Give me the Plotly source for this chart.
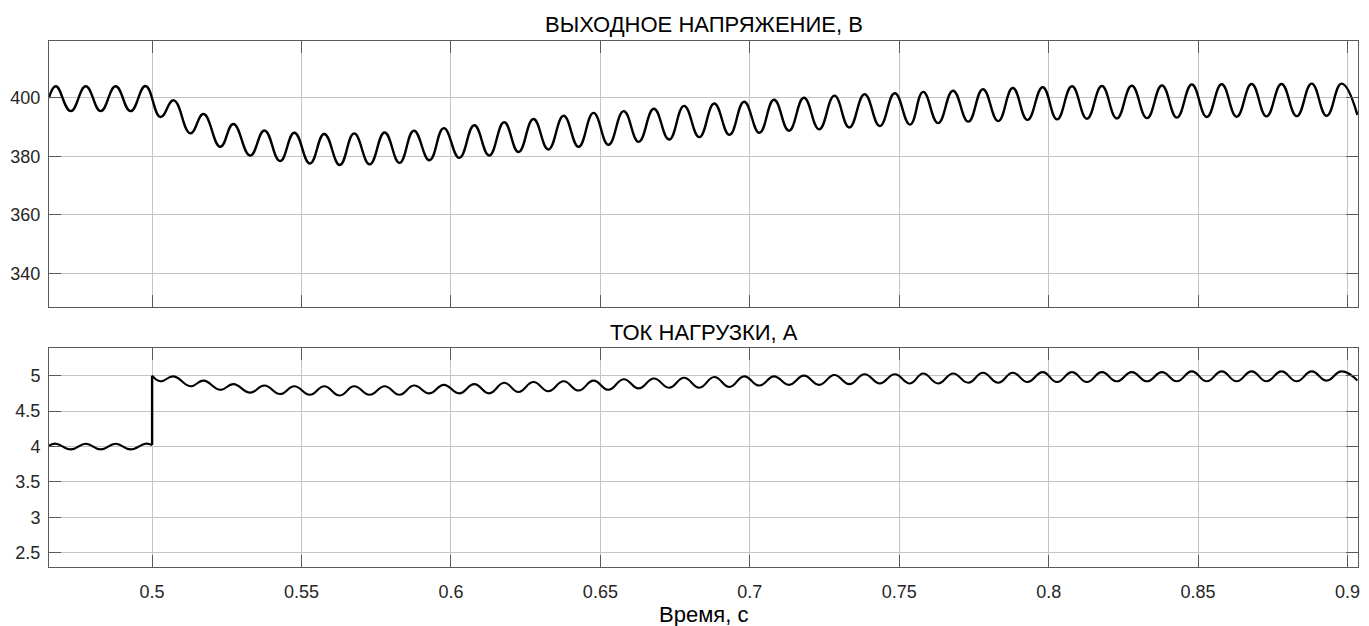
import plotly.graph_objects as go
from plotly.subplots import make_subplots

# Extremum samples of the ripple (time, s), shared by both signals
time_s = [
    0.4655,
    0.4678, 0.4728, 0.4778, 0.4828, 0.4878, 0.4928, 0.4978, 0.5028,
    0.5072, 0.5128, 0.5172, 0.5228, 0.5272, 0.5328, 0.5376, 0.5428,
    0.5476, 0.5528, 0.5576, 0.5628, 0.5676, 0.5728, 0.5778, 0.5828,
    0.5876, 0.5928, 0.5976, 0.6028, 0.6078, 0.6128, 0.6178, 0.6226,
    0.6276, 0.6326, 0.6377, 0.6427, 0.6477, 0.6527, 0.6578, 0.6628,
    0.6679, 0.6730, 0.6780, 0.6831, 0.6881, 0.6932, 0.6981, 0.7032,
    0.7081, 0.7131, 0.7181, 0.7232, 0.7283, 0.7333, 0.7384, 0.7435,
    0.7485, 0.7536, 0.7580, 0.7630, 0.7680, 0.7731, 0.7780, 0.7831,
    0.7880, 0.7929, 0.7980, 0.8028, 0.8078, 0.8128, 0.8178, 0.8228,
    0.8278, 0.8329, 0.8379, 0.8429, 0.8479, 0.8529, 0.8579, 0.8629,
    0.8679, 0.8729, 0.8779, 0.8830, 0.8880, 0.8930, 0.8980,
    0.9033,
]

# Output voltage, V
voltage_v = [
    400.0,
    404.0, 395.5, 404.0, 395.5, 404.0, 395.5, 404.1, 393.5,
    399.2, 387.9, 394.5, 383.3, 391.1, 380.3, 388.9, 378.4,
    388.1, 377.6, 387.7, 377.1, 387.9, 377.3, 388.2, 377.8,
    388.8, 378.7, 389.7, 379.5, 390.7, 380.3, 391.7, 381.5,
    392.8, 382.4, 393.9, 383.3, 394.9, 384.0, 395.5, 385.0,
    396.3, 385.8, 397.3, 386.6, 398.1, 387.4, 398.7, 388.1,
    399.4, 388.8, 400.1, 389.3, 400.8, 389.9, 401.3, 390.4,
    401.6, 390.9, 402.1, 391.4, 402.5, 391.9, 403.0, 392.1,
    403.4, 392.5, 403.7, 392.7, 404.0, 392.9, 404.1, 393.0,
    404.2, 393.1, 404.3, 393.3, 404.6, 393.5, 404.7, 393.6,
    404.8, 393.7, 404.8, 393.8, 404.9, 393.9, 404.9,
    394.2,
]

# Load current, A
current_a = [
    4.01,
    4.04, 3.96, 4.04, 3.96, 4.04, 3.96, 4.04, 4.92,
    4.99, 4.85, 4.93, 4.80, 4.88, 4.76, 4.86, 4.74,
    4.85, 4.73, 4.85, 4.72, 4.85, 4.73, 4.85, 4.73,
    4.86, 4.75, 4.87, 4.75, 4.88, 4.75, 4.90, 4.77,
    4.91, 4.78, 4.92, 4.79, 4.93, 4.80, 4.95, 4.82,
    4.96, 4.83, 4.97, 4.83, 4.98, 4.84, 4.99, 4.86,
    4.99, 4.87, 5.00, 4.87, 5.01, 4.88, 5.02, 4.89,
    5.02, 4.89, 5.03, 4.89, 5.03, 4.90, 5.04, 4.90,
    5.04, 4.91, 5.05, 4.91, 5.05, 4.91, 5.05, 4.92,
    5.05, 4.92, 5.05, 4.92, 5.06, 4.92, 5.06, 4.92,
    5.06, 4.92, 5.06, 4.92, 5.06, 4.93, 5.06,
    4.93,
]

# Load step
step_time = 0.5
current_before_step = 4.02
current_after_step = 5.00

x_ticks = [0.5, 0.55, 0.6, 0.65, 0.7, 0.75, 0.8, 0.85, 0.9]
x_tick_text = ["0.5", "0.55", "0.6", "0.65", "0.7", "0.75", "0.8", "0.85", "0.9"]
v_ticks = [340, 360, 380, 400]
i_ticks = [2.5, 3, 3.5, 4, 4.5, 5]
i_tick_text = ["2.5", "3", "3.5", "4", "4.5", "5"]

x_range = [0.4655, 0.9035]
v_range = [328.6, 419.5]
i_range = [2.30, 5.386]

FONT = "Liberation Sans, Arial, Helvetica, sans-serif"
INK = "#262626"
GRID = "#c4c4c4"
FRAME = "#5a5a5a"

# Current split around the step so the spline stays clean
pre_t = [t for t in time_s if t < step_time] + [step_time]
pre_i = [c for t, c in zip(time_s, current_a) if t < step_time] + [current_before_step]
post_t = [step_time] + [t for t in time_s if t > step_time]
post_i = [current_after_step] + [c for t, c in zip(time_s, current_a) if t > step_time]

fig = make_subplots(rows=2, cols=1, shared_xaxes=False, vertical_spacing=0.08)

fig.add_trace(go.Scatter(
    x=time_s, y=voltage_v, mode="lines",
    line=dict(color="black", width=2.4, shape="spline", smoothing=1.3),
    hoverinfo="skip", showlegend=False), row=1, col=1)

fig.add_trace(go.Scatter(
    x=pre_t + [None] + post_t, y=pre_i + [None] + post_i, mode="lines",
    line=dict(color="black", width=2.1, shape="spline", smoothing=1.3),
    hoverinfo="skip", showlegend=False), row=2, col=1)

fig.add_trace(go.Scatter(
    x=[step_time, step_time], y=[current_before_step, current_after_step],
    mode="lines", line=dict(color="black", width=2.4),
    hoverinfo="skip", showlegend=False), row=2, col=1)

axis_common = dict(
    showline=True, linecolor=FRAME, linewidth=1, mirror="ticks",
    ticks="inside", ticklen=12, tickwidth=1, tickcolor=FRAME,
    showgrid=True, gridcolor=GRID, gridwidth=1, zeroline=False,
    tickfont=dict(family=FONT, size=18, color=INK),
)

top_dom = [0.4949, 1.0]
bot_dom = [0.0, 0.4158]

fig.update_layout(
    width=1369, height=626,
    margin=dict(l=49, r=9, t=41, b=59),
    paper_bgcolor="white", plot_bgcolor="white",
    font=dict(family=FONT, color=INK),
    xaxis=dict(axis_common, range=x_range, tickvals=x_ticks, ticktext=x_tick_text,
               showticklabels=False, anchor="y", domain=[0, 1]),
    yaxis=dict(axis_common, range=v_range, tickvals=v_ticks, domain=top_dom,
               anchor="x", ticklabelstandoff=4),
    xaxis2=dict(axis_common, range=x_range, tickvals=x_ticks, ticktext=x_tick_text,
                anchor="y2", domain=[0, 1], ticklabelstandoff=8),
    yaxis2=dict(axis_common, range=i_range, tickvals=i_ticks, ticktext=i_tick_text,
                domain=bot_dom, anchor="x2", ticklabelstandoff=4),
    annotations=[
        dict(text="ВЫХОДНОЕ НАПРЯЖЕНИЕ, В", x=0.5, y=top_dom[1], xref="paper", yref="paper",
             xanchor="center", yanchor="bottom", yshift=1.5, showarrow=False,
             font=dict(family=FONT, size=22, color="black")),
        dict(text="ТОК НАГРУЗКИ, А", x=0.5, y=bot_dom[1], xref="paper", yref="paper",
             xanchor="center", yanchor="bottom", yshift=1.5, showarrow=False,
             font=dict(family=FONT, size=22, color="black")),
        dict(text="Время, с", x=0.5, y=0, xref="paper", yref="paper",
             xanchor="center", yanchor="top", yshift=-33, showarrow=False,
             font=dict(family=FONT, size=22, color="black")),
    ],
)

fig.write_html("out.html")
